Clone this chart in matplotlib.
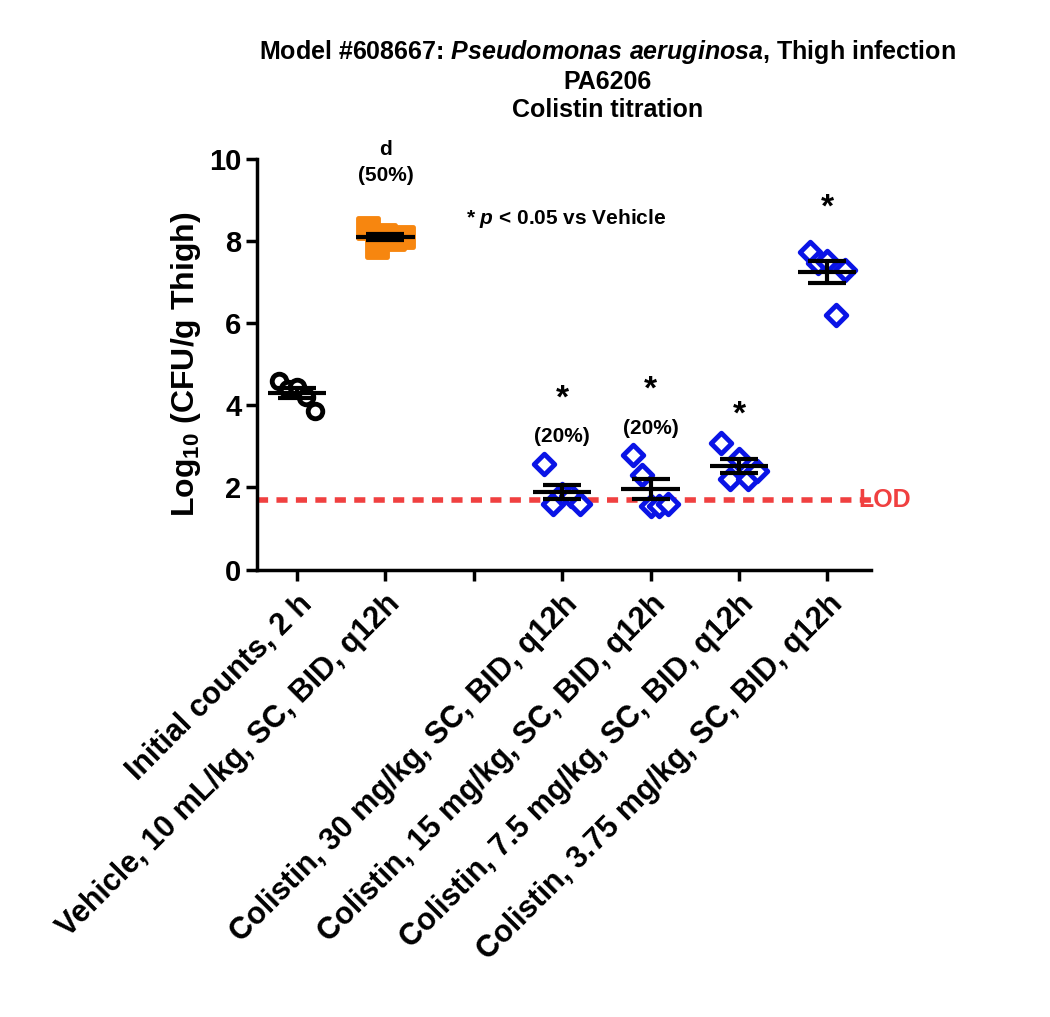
import numpy as np
import matplotlib.pyplot as plt

plt.rcParams['font.family'] = ['Liberation Sans', 'DejaVu Sans']
plt.rcParams['font.weight'] = 'bold'
plt.rcParams['mathtext.fontset'] = 'custom'
plt.rcParams['mathtext.rm'] = 'Liberation Sans:bold'
plt.rcParams['mathtext.bf'] = 'Liberation Sans:bold'
plt.rcParams['mathtext.it'] = 'Liberation Sans:bold:italic'

labels = ["Initial counts, 2 h", "Vehicle, 10 mL/kg, SC, BID, q12h", "",
          "Colistin, 30 mg/kg, SC, BID, q12h", "Colistin, 15 mg/kg, SC, BID, q12h",
          "Colistin, 7.5 mg/kg, SC, BID, q12h", "Colistin, 3.75 mg/kg, SC, BID, q12h"]
initial = [4.6, 4.4, 4.45, 4.2, 3.85]
vehicle = [8.3, 7.85, 8.15, 8.05, 8.1]
col30 = [2.58, 1.6, 1.85, 1.8, 1.6]
col15 = [2.78, 2.3, 1.55, 1.55, 1.6]
col75 = [3.07, 2.2, 2.7, 2.2, 2.4]
col375 = [7.73, 7.46, 7.5, 6.2, 7.3]
jitter = [-0.2, -0.1, 0.0, 0.1, 0.2]
lod = 1.7
groups = [(0, initial, 'o', 'black', 'white'), (1, vehicle, 's', '#f7860f', '#f7860f'),
          (3, col30, 'D', '#0a14e6', 'white'), (4, col15, 'D', '#0a14e6', 'white'),
          (5, col75, 'D', '#0a14e6', 'white'), (6, col375, 'D', '#0a14e6', 'white')]

fig = plt.figure(figsize=(10.5, 10.17), dpi=100)
ax = fig.add_axes([0.245, 0.44, 0.585, 0.404])

for x, vals, m, ec, fc in groups:
    v = np.array(vals)
    xs = x + np.array(jitter)
    ax.scatter(xs, v, marker=m, s=110 if m != 's' else 200, facecolor=fc, edgecolor=ec,
               linewidth=3.5, zorder=3)
    mean = v.mean()
    sem = v.std(ddof=1) / np.sqrt(len(v))
    ax.hlines(mean, x - 0.33, x + 0.33, color='black', lw=3, zorder=4)
    ax.errorbar(x, mean, yerr=sem, color='black', lw=3, capsize=14, capthick=3, zorder=4)

ax.axhline(lod, color='#f04040', lw=4, ls=(0, (2, 1.5)), zorder=2)
ax.text(6.35, lod, "LOD", color='#f04040', fontsize=18, va='center', fontweight='bold',
        clip_on=False)

ax.text(1, 10.1, "d", ha='center', fontsize=15, fontweight='bold')
ax.text(1, 9.45, "(50%)", ha='center', fontsize=15, fontweight='bold')
ax.text(3, 3.95, "*", ha='center', fontsize=24, fontweight='bold')
ax.text(3, 3.1, "(20%)", ha='center', fontsize=15, fontweight='bold')
ax.text(4, 4.15, "*", ha='center', fontsize=24, fontweight='bold')
ax.text(4, 3.3, "(20%)", ha='center', fontsize=15, fontweight='bold')
ax.text(5, 3.55, "*", ha='center', fontsize=24, fontweight='bold')
ax.text(6, 8.6, "*", ha='center', fontsize=24, fontweight='bold')
ax.text(3.05, 8.55, "* $\\mathit{p}$ < 0.05 vs Vehicle", ha='center', va='center',
        fontsize=15, fontweight='bold')

ax.set_xlim(-0.45, 6.5)
ax.set_ylim(0, 10)
ax.set_yticks([0, 2, 4, 6, 8, 10])
ax.set_xticks(range(7))
ax.set_xticklabels(labels, rotation=45, ha='right', rotation_mode='anchor', fontsize=22,
                   fontweight='bold')
ax.tick_params(axis='y', labelsize=21, width=2.5, length=8)
ax.tick_params(axis='x', width=2.5, length=8, pad=6)
for t in ax.get_yticklabels():
    t.set_fontweight('bold')
for s in ['top', 'right']:
    ax.spines[s].set_visible(False)
for s in ['left', 'bottom']:
    ax.spines[s].set_linewidth(2.5)
ax.set_ylabel("Log$_{\\mathrm{10}}$ (CFU/g Thigh)", fontsize=23, fontweight='bold')
ax.set_title("Model #608667: $\\mathit{Pseudomonas\\ aeruginosa}$, Thigh infection\nPA6206\nColistin titration",
             fontsize=18, fontweight='bold', x=0.57, pad=30)

fig.savefig("out.png")
